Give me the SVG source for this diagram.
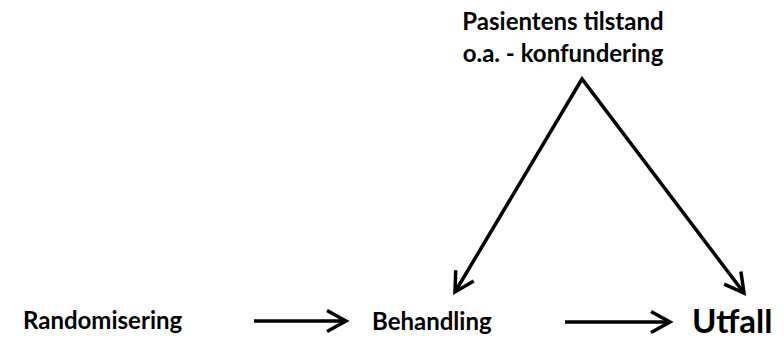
<svg xmlns="http://www.w3.org/2000/svg" width="784" height="341" viewBox="0 0 784 341">
<style>
text{font-family:Lato,"Open Sans","Liberation Sans",sans-serif;font-weight:700;fill:#000;font-size:24px}
.big{font-size:33px}
.c{stroke:#000;stroke-width:3.5;fill:none;stroke-linejoin:miter}
</style>
<defs>
<marker id="ah" markerUnits="userSpaceOnUse" markerWidth="40" markerHeight="40" viewBox="-25 -20 30 40" refX="0" refY="0" orient="auto-start-reverse">
<path d="M-19,-10.5 L0,0 L-19,10.5" fill="none" stroke="#000" stroke-width="3.5" stroke-linejoin="miter"/>
</marker>
</defs>
<rect width="784" height="341" fill="#fff"/>
<g id="connectors">
<line class="c" x1="254" y1="321" x2="346" y2="321" marker-end="url(#ah)"/>
<line class="c" x1="565" y1="322" x2="670" y2="322" marker-end="url(#ah)"/>
<polyline class="c" points="455,292 582,79 744,293" marker-start="url(#ah)" marker-end="url(#ah)"/>
</g>
<g id="confounder"><text x="563" y="30" text-anchor="middle">Pasientens tilstand</text><text x="563" y="62" text-anchor="middle">o.a. - konfundering</text></g>
<g id="randomisering"><text x="23" y="329">Randomisering</text></g>
<g id="behandling"><text x="372" y="330">Behandling</text></g>
<g id="utfall"><text class="big" x="692" y="333">Utfall</text></g>
</svg>
